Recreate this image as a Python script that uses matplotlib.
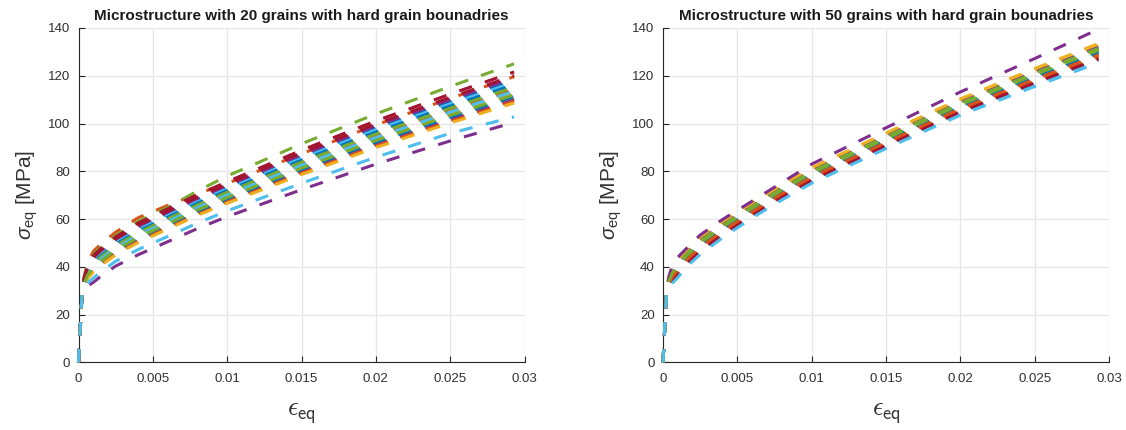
import matplotlib
matplotlib.use('Agg')
import matplotlib.pyplot as plt
from matplotlib.ticker import FixedLocator, FixedFormatter

plt.rcParams['font.family'] = ['Liberation Sans', 'DejaVu Sans']
plt.rcParams['mathtext.fontset'] = 'custom'
plt.rcParams['mathtext.rm'] = 'Liberation Sans'
plt.rcParams['mathtext.it'] = 'Liberation Sans:italic'
plt.rcParams['lines.scale_dashes'] = False

# ---------------- data ----------------
strain = [0, 0.00025, 0.0004, 0.0006, 0.001, 0.0015, 0.0025, 0.004,
          0.006, 0.008, 0.01, 0.015, 0.02, 0.025, 0.0293]

x_ticks = [0, 0.005, 0.01, 0.015, 0.02, 0.025, 0.03]
x_tick_labels = ['0', '0.005', '0.01', '0.015', '0.02', '0.025', '0.03']
y_ticks = [0, 20, 40, 60, 80, 100, 120, 140]
y_tick_labels = ['0', '20', '40', '60', '80', '100', '120', '140']

titles = ['Microstructure with 20 grains with hard grain bounadries',
          'Microstructure with 50 grains with hard grain bounadries']

# 20 grains (stress in MPa at each strain)
L01 = [0, 30.6, 35.0, 38.8, 42.9, 45.7, 50.5, 56.2, 62.0, 67.9, 73.2, 86.1, 98.1, 109.1, 118.1]
L02 = [0, 31.0, 36.5, 41.5, 46.5, 49.5, 54.5, 60.5, 65.7, 70.5, 74.9, 87.3, 99.4, 110.5, 119.6]
L03 = [0, 30.3, 33.8, 36.7, 40.0, 42.8, 47.4, 52.8, 58.5, 64.3, 69.5, 81.9, 93.5, 104.1, 112.8]
L04 = [0, 30.6, 35.2, 39.2, 43.4, 46.3, 51.1, 56.8, 62.7, 68.5, 73.9, 86.9, 99.0, 110.0, 119.1]
L05 = [0, 30.9, 36.0, 40.5, 45.2, 48.2, 53.1, 59.0, 64.9, 71.7, 78.0, 91.5, 104.0, 115.5, 125.0]
L06 = [0, 30.5, 34.7, 38.4, 42.3, 45.2, 50.0, 55.5, 61.4, 67.2, 72.6, 85.4, 97.3, 108.2, 117.2]
L07 = [0, 30.8, 35.7, 40.1, 44.7, 47.6, 52.5, 58.3, 64.3, 70.2, 75.6, 88.8, 101.1, 112.3, 121.6]
L08 = [0, 30.5, 34.5, 38.0, 41.8, 44.6, 49.4, 54.9, 60.7, 66.6, 71.9, 84.6, 96.4, 107.3, 116.2]
L09 = [0, 30.3, 34.1, 37.2, 40.8, 43.6, 48.3, 53.7, 59.5, 65.2, 70.5, 83.1, 94.8, 105.5, 114.2]
L10 = [0, 30.1, 33.2, 35.7, 38.7, 41.4, 46.0, 51.2, 56.9, 62.6, 67.8, 80.0, 91.4, 101.8, 110.3]
L11 = [0, 30.1, 33.1, 35.5, 38.5, 41.2, 45.8, 51.0, 56.7, 62.4, 67.6, 79.7, 91.1, 101.5, 109.9]
L12 = [0, 30.4, 34.3, 37.6, 41.3, 44.1, 48.8, 54.3, 60.1, 65.9, 71.2, 83.8, 95.6, 106.4, 115.2]
L13 = [0, 30.3, 33.9, 36.9, 40.4, 43.2, 47.8, 53.2, 59.0, 64.8, 70.0, 82.5, 94.1, 104.8, 113.5]
L14 = [0, 30.7, 35.4, 39.6, 43.9, 46.8, 51.7, 57.4, 63.3, 69.2, 74.6, 87.7, 99.8, 110.9, 120.1]
L15 = [0, 30.2, 33.4, 36.1, 39.2, 41.9, 46.6, 51.8, 57.5, 63.3, 68.5, 80.8, 92.2, 102.7, 111.3]
L16 = [0, 30.0, 33.0, 35.3, 38.2, 40.9, 45.4, 50.6, 56.3, 61.9, 67.1, 79.2, 90.6, 100.9, 109.3]
L17 = [0, 30.0, 32.8, 35.0, 37.8, 40.5, 45.0, 50.1, 55.8, 61.5, 66.6, 78.6, 89.9, 100.2, 108.6]
L18 = [0, 29.5, 31.0, 31.8, 33.5, 36.0, 40.3, 45.0, 50.5, 56.0, 61.0, 72.3, 83.0, 92.7, 100.5]
L19 = [0, 30.2, 33.6, 36.4, 39.6, 42.3, 47.0, 52.3, 58.0, 63.8, 69.0, 81.3, 92.9, 103.4, 112.0]
L20 = [0, 29.7, 31.8, 33.2, 35.3, 37.9, 42.3, 47.2, 52.7, 58.3, 63.4, 75.0, 85.9, 95.9, 102.8]

# 50 grains
R01 = [0, 30.4, 33.7, 36.2, 39.4, 43.1, 48.9, 55.6, 63.7, 71.2, 78.3, 92.8, 106.9, 119.3, 129.5]
R02 = [0, 30.1, 32.9, 34.9, 37.8, 41.6, 47.4, 54.2, 62.4, 69.9, 77.0, 91.5, 105.5, 117.8, 127.9]
R03 = [0, 30.8, 35.1, 38.7, 42.4, 45.9, 51.9, 58.4, 66.2, 73.8, 80.9, 95.4, 109.6, 122.3, 132.7]
R04 = [0, 30.7, 34.8, 38.0, 41.7, 45.2, 51.1, 57.7, 65.5, 73.1, 80.2, 94.7, 108.9, 121.5, 131.9]
R05 = [0, 30.6, 34.6, 37.7, 41.3, 44.8, 50.8, 57.4, 65.2, 72.8, 79.9, 94.4, 108.6, 121.1, 131.5]
R06 = [0, 30.0, 32.4, 34.0, 36.7, 40.6, 46.3, 53.2, 61.5, 69.0, 76.0, 90.5, 104.5, 116.6, 126.7]
R07 = [0, 30.0, 32.5, 34.3, 37.0, 40.9, 46.7, 53.5, 61.8, 69.3, 76.3, 90.8, 104.9, 117.0, 127.1]
R08 = [0, 30.5, 34.0, 36.8, 40.1, 43.8, 49.6, 56.3, 64.3, 71.8, 78.9, 93.4, 107.6, 120.0, 130.3]
R09 = [0, 30.2, 33.3, 35.5, 38.6, 42.3, 48.2, 54.9, 63.0, 70.6, 77.6, 92.1, 106.2, 118.5, 128.7]
R10 = [0, 30.9, 35.5, 39.3, 43.2, 46.6, 52.6, 59.1, 66.8, 74.4, 81.5, 96.0, 110.3, 123.0, 133.5]
R11 = [0, 31.0, 36.0, 40.0, 44.0, 47.2, 53.3, 59.8, 67.5, 75.3, 83.0, 98.2, 113.2, 127.2, 139.5]
R12 = [0, 30.5, 34.2, 37.1, 40.5, 44.1, 50.0, 56.7, 64.6, 72.2, 79.2, 93.7, 107.9, 120.4, 130.7]
R13 = [0, 29.8, 31.8, 33.0, 35.5, 39.5, 45.2, 52.1, 60.5, 68.0, 75.0, 89.5, 103.5, 115.5, 125.5]

left_curves = [L01, L02, L03, L04, L05, L06, L07, L08, L09, L10,
               L11, L12, L13, L14, L15, L16, L17, L18, L19, L20]
right_curves = [R01, R02, R03, R04, R05, R06, R07, R08, R09, R10, R11, R12, R13]

colors = ['#0072BD', '#D95319', '#EDB120', '#7E2F8E', '#77AC30', '#4DBEEE', '#A2142F']

# ---------------- figure ----------------
W, H = 1126, 430
fig = plt.figure(figsize=(W / 100, H / 100), dpi=100)
ax_l = fig.add_axes([78.5 / W, (H - 362.3) / H, 446 / W, 334.3 / H])
ax_r = fig.add_axes([663 / W, (H - 362.3) / H, 446 / W, 334.3 / H])

axis_col = '#262626'
for ax, curves, title in ((ax_l, left_curves, titles[0]), (ax_r, right_curves, titles[1])):
    for i, c in enumerate(curves):
        ax.plot(strain, c, color=colors[i % 7], lw=2.2, dashes=(9.6, 9.8),
                dash_capstyle='butt', clip_on=False, zorder=3)
    ax.set_xlim(0, 0.03)
    ax.set_ylim(0, 140)
    ax.xaxis.set_major_locator(FixedLocator(x_ticks))
    ax.xaxis.set_major_formatter(FixedFormatter(x_tick_labels))
    ax.yaxis.set_major_locator(FixedLocator(y_ticks))
    ax.yaxis.set_major_formatter(FixedFormatter(y_tick_labels))
    ax.grid(True, color='#e6e6e6', lw=0.9)
    ax.set_axisbelow(True)
    for s in ('top', 'right'):
        ax.spines[s].set_visible(False)
    for s in ('left', 'bottom'):
        ax.spines[s].set_color(axis_col)
        ax.spines[s].set_linewidth(0.8)
    ax.tick_params(direction='in', length=4.5, width=0.8, color=axis_col,
                   labelcolor='#303030', labelsize=9.5)
    ax.tick_params(axis='x', pad=8)
    ax.tick_params(axis='y', pad=6)
    ax.set_title(title, fontsize=11, fontweight='bold', color='#1a1a1a', pad=6)
    ax.set_xlabel(r'$\epsilon_{\mathsf{eq}}$', fontsize=19, color='#333333',
                  math_fontfamily='cm')
    ax.set_ylabel(r'$\sigma_{\mathrm{eq}}$ [MPa]', fontsize=15, color='#333333')
    ax.xaxis.set_label_coords(0.5, -0.152)
    ax.xaxis.label.set_va('center')
    ax.yaxis.set_label_coords(-0.1155, 0.5)
    ax.yaxis.label.set_va('center')

fig.savefig('out.png', dpi=100)
